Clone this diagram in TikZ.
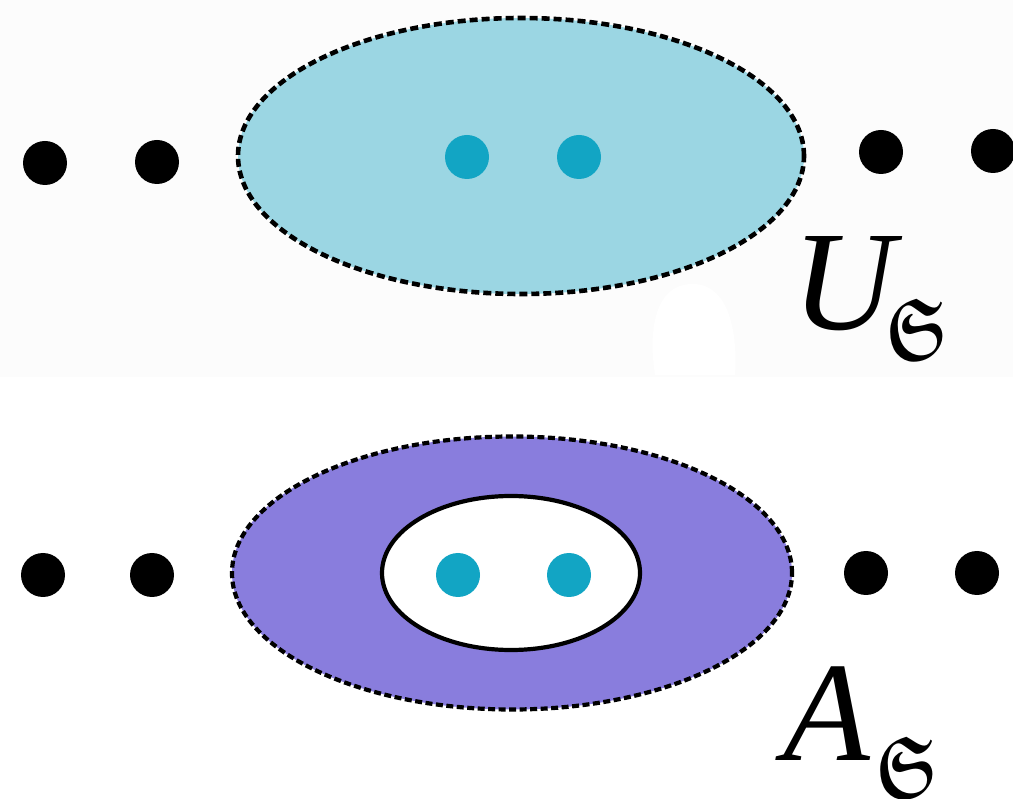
\documentclass[tikz,border=0pt]{standalone}
\usepackage{amsfonts}
\usepackage{bm}
\usepackage{fontspec}
\setmainfont{Liberation Serif}
\definecolor{lightcyan}{HTML}{9BD6E3}
\definecolor{dotcyan}{HTML}{12A5C4}
\definecolor{violetfill}{HTML}{897DDD}
\definecolor{offwhite}{HTML}{FCFCFC}
\tikzset{
  blackdot/.style={circle,fill=black,inner sep=0pt,minimum size=44pt},
  cyandot/.style={circle,fill=dotcyan,inner sep=0pt,minimum size=44pt},
  outerset/.style={ellipse,draw=black,line width=4.6pt,dash pattern=on 8pt off 4pt,inner sep=0pt},
  innerset/.style={ellipse,draw=black,line width=4.2pt,fill=white,inner sep=0pt},
  biglabel/.style={inner sep=0pt,anchor=base west,font=\fontsize{142}{142}\selectfont\itshape},
  sublabel/.style={inner sep=0pt,anchor=base west,xscale=0.72,font=\fontsize{88}{88}\selectfont}
}
\usetikzlibrary{shapes.geometric}
\begin{document}
\begin{tikzpicture}[x=1pt,y=-1pt]
\useasboundingbox (0,0) rectangle (1013,799);
\fill[white] (0,0) rectangle (1013,799);
\fill[offwhite] (0,0) rectangle (1013,377);
\fill[white] (690,284) .. controls (655,286) and (648,330) .. (655,375) -- (735,375) .. controls (738,330) and (728,282) .. (690,284) -- cycle;
% top panel
\node[outerset,fill=lightcyan,minimum width=566pt,minimum height=276pt] (U) at (521,156) {};
\node[blackdot] (t1) at (45,163) {};
\node[blackdot] (t2) at (157,162) {};
\node[blackdot] (t3) at (881,152) {};
\node[blackdot] (t4) at (993,151) {};
\node[cyandot] (tc1) at (467,157) {};
\node[cyandot] (tc2) at (579,157) {};
\node[biglabel] (ulab) at (792,330) {U};
\node[sublabel] (usub) at (885,360) {$\bm{\mathfrak{S}}$};
% bottom panel
\node[outerset,fill=violetfill,line width=4.2pt,dash pattern=on 7pt off 3.5pt,minimum width=560pt,minimum height=273pt] (A) at (512,573) {};
\node[innerset,minimum width=258pt,minimum height=154pt] (in) at (511,573) {};
\node[blackdot] (b1) at (43,575) {};
\node[blackdot] (b2) at (152,575) {};
\node[blackdot] (b3) at (866,573) {};
\node[blackdot] (b4) at (977,573) {};
\node[cyandot] (bc1) at (458,575) {};
\node[cyandot] (bc2) at (569,575) {};
\node[biglabel] (alab) at (783,760) {A};
\node[sublabel] (asub) at (875,797) {$\bm{\mathfrak{S}}$};
\end{tikzpicture}
\end{document}
